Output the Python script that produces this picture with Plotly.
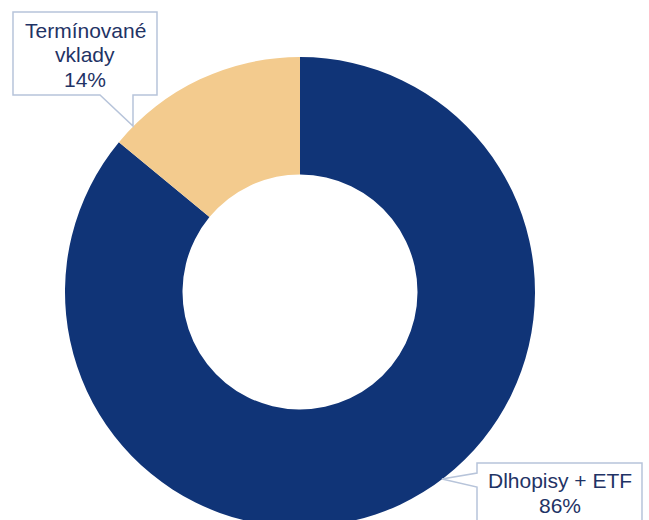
import plotly.graph_objects as go

labels = ["Dlhopisy + ETF", "Termínované vklady"]
values = [86, 14]
colors = ["#103477", "#F3CB8E"]
label_lines = [["Termínované", "vklady", "14%"], ["Dlhopisy + ETF", "86%"]]

W, H = 649, 534  # figure slightly taller than the window; bottom is cropped like the reference


def px(x):
    return x / W


def py(y):
    return (H - y) / H


# donut geometry (pixels)
cx, cy, r = 300, 292, 235

fig = go.Figure(go.Pie(
    labels=labels,
    values=values,
    marker=dict(colors=colors, line=dict(width=0)),
    hole=0.5,
    sort=False,
    direction="clockwise",
    rotation=0,
    textinfo="none",
    hoverinfo="label+percent",
    showlegend=False,
    domain=dict(x=[px(cx - r), px(cx + r)], y=[py(cy + r), py(cy - r)]),
))

border = "#B7C4DA"
txt_col = "#1F3365"


def path(points):
    return "M " + " L ".join(f"{px(x):.5f},{py(y):.5f}" for x, y in points) + " Z"


# callout 1 (top-left)
c1 = [(13, 12), (157, 12), (157, 95), (133, 95), (133, 126), (100, 95), (13, 95)]
# callout 2 (bottom-right)
c2 = [(477, 463), (642, 463), (642, 540), (477, 540), (477, 487), (442, 479), (477, 473)]

shapes = []
for pts in (c1, c2):
    shapes.append(dict(type="path", xref="paper", yref="paper", path=path(pts),
                       fillcolor="white", line=dict(color=border, width=1.5)))

font = dict(family="Liberation Sans, Arial, sans-serif", size=21, color=txt_col)
annotations = []
line_pos = [(85, [30, 54, 79]), (560, [480, 505])]
for lines, (x, ys) in zip(label_lines, line_pos):
    for t, y in zip(lines, ys):
        annotations.append(dict(x=px(x), y=py(y), xref="paper", yref="paper", text=t,
                                showarrow=False, xanchor="center", yanchor="middle",
                                align="center", font=font))

fig.update_layout(
    width=W, height=H,
    margin=dict(l=0, r=0, t=0, b=0),
    paper_bgcolor="white",
    plot_bgcolor="white",
    shapes=shapes,
    annotations=annotations,
)

fig.write_html(
    "out.html",
    post_script="document.body.style.margin='0';document.body.style.overflow='hidden';"
                "document.documentElement.style.overflow='hidden';",
)
